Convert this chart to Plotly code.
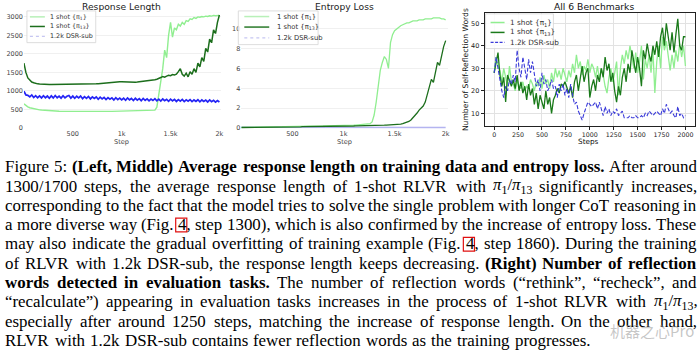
import plotly.graph_objects as go

# ---------------- data ----------------
train_steps = list(range(0, 2001, 20))

resp_len_pi1 = [
    650, 600, 570, 545, 530,
    515, 505, 495, 488, 482,
    476, 470, 466, 462, 458,
    455, 452, 450, 448, 447,
    446, 445, 444, 443, 442,
    442, 441, 440, 440, 440,
    440, 440, 440, 440, 441,
    441, 442, 442, 443, 443,
    444, 444, 445, 445, 446,
    446, 447, 447, 448, 449,
    450, 451, 452, 453, 454,
    455, 456, 457, 458, 459,
    460, 462, 464, 466, 468,
    470, 475, 480, 560, 900,
    1300, 1600, 2100, 1900, 2500,
    2850, 2450, 2700, 2650, 2800,
    2750, 2850, 2800, 2900, 2880,
    2950, 2930, 2980, 2960, 3000,
    2990, 3010, 3000, 3020, 3010,
    3030, 3020, 3040, 3030, 3040,
    3040]

resp_len_pi13 = [
    1750, 1500, 1350, 1280, 1240,
    1220, 1200, 1190, 1185, 1180,
    1180, 1178, 1176, 1175, 1175,
    1175, 1174, 1174, 1173, 1173,
    1173, 1172, 1172, 1172, 1173,
    1173, 1174, 1175, 1176, 1177,
    1178, 1180, 1182, 1184, 1186,
    1188, 1190, 1192, 1195, 1198,
    1200, 1205, 1210, 1215, 1220,
    1225, 1230, 1235, 1240, 1245,
    1250, 1245, 1240, 1235, 1232,
    1230, 1232, 1235, 1240, 1245,
    1250, 1255, 1262, 1270, 1278,
    1285, 1290, 1300, 1315, 1330,
    1360, 1390, 1370, 1400, 1420,
    1410, 1440, 1430, 1450, 1520,
    1600, 1450, 1400, 1480, 1380,
    1520, 1450, 1600, 1500, 1750,
    1650, 1900, 1800, 2150, 2050,
    2400, 2300, 2650, 2550, 2850,
    3050]

resp_len_dsr = [
    990, 890, 880, 840, 890,
    820, 870, 815, 865, 810,
    870, 815, 860, 800, 865,
    810, 875, 815, 860, 805,
    870, 810, 855, 875, 805,
    860, 800, 855, 810, 860,
    790, 845, 800, 850, 785,
    840, 795, 835, 775, 830,
    785, 825, 765, 820, 775,
    810, 755, 815, 765, 805,
    755, 800, 745, 810, 755,
    795, 740, 800, 750, 790,
    735, 795, 745, 785, 730,
    780, 740, 790, 730, 775,
    725, 780, 735, 770, 720,
    775, 730, 770, 715, 765,
    725, 770, 710, 760, 720,
    765, 710, 755, 715, 760,
    705, 755, 715, 750, 700,
    755, 710, 745, 695, 740,
    700]

entropy_pi1 = [
    0.05, 0.05, 0.06, 0.06, 0.06,
    0.07, 0.07, 0.07, 0.08, 0.08,
    0.08, 0.09, 0.09, 0.10, 0.10,
    0.10, 0.11, 0.11, 0.12, 0.12,
    0.12, 0.13, 0.13, 0.14, 0.14,
    0.14, 0.15, 0.15, 0.16, 0.16,
    0.16, 0.17, 0.17, 0.18, 0.18,
    0.18, 0.19, 0.19, 0.20, 0.20,
    0.20, 0.21, 0.21, 0.22, 0.22,
    0.22, 0.23, 0.23, 0.24, 0.24,
    0.25, 0.25, 0.26, 0.27, 0.27,
    0.28, 0.29, 0.30, 0.31, 0.32,
    0.33, 0.35, 0.38, 0.42, 0.60,
    1.3, 2.6, 4.2, 5.8, 6.6,
    7.2, 6.9, 6.0, 8.6, 9.4,
    9.8, 10.0, 10.2, 10.3, 10.4,
    10.5, 10.6, 10.6, 10.7, 10.8,
    10.8, 10.8, 10.9, 10.9, 10.9,
    11.0, 11.0, 11.0, 11.0, 11.1,
    11.1, 11.1, 11.1, 11.0, 11.0,
    10.9]

entropy_pi13 = [
    0.04, 0.04, 0.05, 0.05, 0.05,
    0.05, 0.06, 0.06, 0.06, 0.06,
    0.07, 0.07, 0.07, 0.07, 0.08,
    0.08, 0.08, 0.08, 0.09, 0.09,
    0.09, 0.09, 0.10, 0.10, 0.10,
    0.10, 0.11, 0.11, 0.11, 0.11,
    0.12, 0.12, 0.12, 0.12, 0.13,
    0.13, 0.13, 0.13, 0.14, 0.14,
    0.14, 0.14, 0.15, 0.15, 0.15,
    0.15, 0.16, 0.16, 0.16, 0.17,
    0.17, 0.17, 0.18, 0.18, 0.19,
    0.19, 0.20, 0.20, 0.21, 0.21,
    0.22, 0.22, 0.23, 0.23, 0.24,
    0.24, 0.25, 0.25, 0.26, 0.27,
    0.27, 0.28, 0.29, 0.29, 0.30,
    0.31, 0.33, 0.36, 0.39, 0.43,
    0.48, 0.55, 0.65, 0.80, 1.0,
    1.2, 1.5, 1.8, 2.0, 2.2,
    2.6, 3.3, 4.1, 4.9, 4.6,
    5.6, 6.6, 6.3, 7.4, 8.2,
    8.8]

entropy_dsr = [
    0.07, 0.06, 0.06, 0.06, 0.06,
    0.06, 0.06, 0.06, 0.06, 0.06,
    0.06, 0.05, 0.06, 0.05, 0.06,
    0.05, 0.05, 0.05, 0.05, 0.05,
    0.05, 0.05, 0.05, 0.05, 0.05,
    0.05, 0.05, 0.05, 0.05, 0.05,
    0.05, 0.05, 0.04, 0.05, 0.04,
    0.04, 0.04, 0.04, 0.04, 0.04,
    0.04, 0.04, 0.04, 0.04, 0.04,
    0.04, 0.04, 0.04, 0.04, 0.04,
    0.04, 0.04, 0.04, 0.04, 0.04,
    0.04, 0.04, 0.04, 0.04, 0.04,
    0.04, 0.04, 0.04, 0.04, 0.04,
    0.04, 0.04, 0.04, 0.04, 0.04,
    0.04, 0.04, 0.04, 0.04, 0.04,
    0.04, 0.04, 0.04, 0.04, 0.04,
    0.04, 0.04, 0.04, 0.04, 0.04,
    0.04, 0.04, 0.04, 0.04, 0.04,
    0.04, 0.04, 0.04, 0.04, 0.04,
    0.04, 0.04, 0.04, 0.04, 0.04,
    0.04]

eval_steps = list(range(0, 2001, 20))

reflect_pi1 = [
    28, 35, 31, 29, 24,
    30, 26, 22, 31, 24,
    23, 20, 25, 22, 21,
    24, 20, 22, 21, 25,
    23, 20, 24, 22, 26,
    21, 27, 23, 25, 21,
    28, 24, 30, 26, 29,
    25, 30, 27, 24, 29,
    26, 32, 28, 36, 30,
    33, 27, 31, 29, 34,
    28, 32, 30, 26, 31,
    25, 30, 27, 22, 19,
    26, 30, 24, 28, 33,
    18, 30, 36, 32, 38,
    34, 40, 35, 30, 37,
    28, 33, 40, 25, 34,
    30, 36, 28, 38, 19,
    33, 40, 30, 44, 38,
    42, 35, 29, 36, 30,
    38, 33, 41, 35, 40,
    31]

reflect_pi13 = [
    28, 32, 37, 27, 22,
    26, 15, 27, 24, 22,
    25, 21, 27, 20, 24,
    19, 22, 16, 23, 18,
    21, 14, 19, 12, 18,
    15, 12, 20, 14, 17,
    10, 16, 18, 21, 19,
    23, 22, 24, 21, 19,
    22, 17, 24, 27, 20,
    26, 31, 24, 28, 30,
    17, 22, 25, 20, 27,
    24, 30, 26, 35, 29,
    32, 24, 28, 20, 15,
    22, 18, 26, 30, 24,
    32, 28, 38, 33, 28,
    35, 30, 22, 38, 34,
    41, 36, 33, 40, 36,
    42, 35, 44, 48, 40,
    50, 44, 38, 46, 37,
    45, 52, 40, 38, 44,
    44]

reflect_dsr = [
    28, 35, 30, 25, 20,
    17, 22, 20, 25, 23,
    27, 24, 38, 30, 26,
    35, 30, 25, 34, 28,
    33, 27, 22, 25, 20,
    28, 23, 25, 20, 22,
    25, 21, 22, 17, 23,
    20, 23, 18, 21, 17,
    23, 18, 14, 15, 11,
    9, 7, 10, 13, 15,
    14, 13, 14, 15, 12,
    15, 12, 9, 13, 10,
    12, 9, 11, 10, 12,
    9, 10, 11, 8, 8,
    8, 9, 8, 8, 9,
    8, 8, 9, 8, 10,
    9, 11, 10, 9, 10,
    11, 10, 9, 12, 10,
    14, 12, 10, 11, 9,
    8, 13, 9, 10, 8,
    9]

train_tickvals = [500, 1000, 1500, 2000]
train_ticktext = ["500", "1k", "1.5k", "2k"]
resp_tickvals = [0, 500, 1000, 1500, 2000, 2500, 3000]
ent_tickvals = [0, 2, 4, 6, 8, 10]
eval_tickvals = [0, 250, 500, 750, 1000, 1250, 1500, 1750, 2000]
refl_tickvals = [10, 20, 30, 40, 50]

legend_labels = ["1 shot {π<sub>1</sub>}", "1 shot {π<sub>13</sub>}", "1.2k DSR-sub"]

CAPTION_LINES = [
    "Figure 5: **(Left, Middle) Average response length on training data and entropy loss.** After around",
    "1300/1700 steps, the average response length of 1-shot RLVR with {PI} significantly increases,",
    "corresponding to the fact that the model tries to solve the single problem with longer CoT reasoning in",
    "a more diverse way (Fig. [4], step 1300), which is also confirmed by the increase of entropy loss. These",
    "may also indicate the gradual overfitting of training example (Fig. [4], step 1860). During the training",
    "of RLVR with 1.2k DSR-sub, the response length keeps decreasing. **(Right) Number of reflection**",
    "**words detected in evaluation tasks.** The number of reflection words (“rethink”, “recheck”, and",
    "“recalculate”) appearing in evaluation tasks increases in the process of 1-shot RLVR with {PI},",
    "especially after around 1250 steps, matching the increase of response length. On the other hand,",
    "RLVR with 1.2k DSR-sub contains fewer reflection words as the training progresses.",
]

# ---------------- helpers ----------------
W, H = 700, 352
def PX(px):
    return px / W
def PY(py):
    return 1 - py / H

C_LIGHT = "#90ee90"
C_DARK1 = "#1c6e1c"
C_DARK3 = "#1a7a1a"
C_BLUE = "#2424f5"

fig = go.Figure()

# Plot 1
fig.add_trace(go.Scatter(x=train_steps, y=resp_len_pi1, mode="lines", line=dict(color=C_LIGHT, width=1.4), xaxis="x", yaxis="y", hoverinfo="skip"))
fig.add_trace(go.Scatter(x=train_steps, y=resp_len_dsr, mode="lines", line=dict(color=C_BLUE, width=1.7), xaxis="x", yaxis="y", hoverinfo="skip"))
fig.add_trace(go.Scatter(x=train_steps, y=resp_len_pi13, mode="lines", line=dict(color=C_DARK1, width=1.5), xaxis="x", yaxis="y", hoverinfo="skip"))
# Plot 2
fig.add_trace(go.Scatter(x=train_steps, y=entropy_dsr, mode="lines", line=dict(color="#b4b4f0", width=1.5), xaxis="x2", yaxis="y2", hoverinfo="skip"))
fig.add_trace(go.Scatter(x=train_steps, y=entropy_pi1, mode="lines", line=dict(color=C_LIGHT, width=1.3), xaxis="x2", yaxis="y2", hoverinfo="skip"))
fig.add_trace(go.Scatter(x=train_steps, y=entropy_pi13, mode="lines", line=dict(color=C_DARK1, width=1.3), xaxis="x2", yaxis="y2", hoverinfo="skip"))
# Plot 3
fig.add_trace(go.Scatter(x=eval_steps, y=reflect_pi1, mode="lines", line=dict(color=C_LIGHT, width=1.3), xaxis="x3", yaxis="y3", hoverinfo="skip"))
fig.add_trace(go.Scatter(x=eval_steps, y=reflect_pi13, mode="lines", line=dict(color=C_DARK3, width=1.3), xaxis="x3", yaxis="y3", hoverinfo="skip"))
fig.add_trace(go.Scatter(x=eval_steps, y=reflect_dsr, mode="lines", line=dict(color="#3b3bd9", width=1.1, dash="4px,2px"), xaxis="x3", yaxis="y3", hoverinfo="skip"))

TICKF = dict(family="DejaVu Sans, Arial, sans-serif", size=6.5, color="#444")
light_axis = dict(showline=False, zeroline=False, ticks="", fixedrange=True)

fig.update_layout(
    width=W, height=H, margin=dict(l=0, r=0, t=0, b=0),
    paper_bgcolor="white", plot_bgcolor="white", showlegend=False,
    xaxis=dict(domain=[PX(24), PX(222)], range=[0, 2020], tickvals=train_tickvals, ticktext=train_ticktext,
               showgrid=False, tickfont=TICKF, anchor="y", **light_axis),
    yaxis=dict(domain=[PY(130), PY(10)], range=[-27, 3188], tickvals=resp_tickvals,
               showgrid=True, gridcolor="#f0f0f0", gridwidth=1, tickfont=TICKF, anchor="x", **light_axis),
    xaxis2=dict(domain=[PX(242), PX(449)], range=[0, 2020], tickvals=train_tickvals, ticktext=train_ticktext,
                showgrid=False, tickfont=TICKF, anchor="y2", **light_axis),
    yaxis2=dict(domain=[PY(130), PY(10)], range=[-0.1, 11.9], tickvals=ent_tickvals,
                showgrid=True, gridcolor="#f0f0f0", gridwidth=1, tickfont=TICKF, anchor="x2", **light_axis),
    xaxis3=dict(domain=[PX(486), PX(697)], range=[-100, 2100], tickvals=eval_tickvals,
                showgrid=True, gridcolor="#e2e2e2", gridwidth=0.8, zeroline=False,
                showline=True, linecolor="#222", linewidth=0.9, mirror=True,
                ticks="outside", ticklen=3, tickwidth=0.8, tickcolor="#222",
                tickfont=dict(family="DejaVu Sans, sans-serif", size=6.3, color="#222"), anchor="y3"),
    yaxis3=dict(domain=[PY(127), PY(13)], range=[4.4, 54.6], tickvals=refl_tickvals,
                showgrid=True, gridcolor="#e2e2e2", gridwidth=0.8, zeroline=False,
                showline=True, linecolor="#222", linewidth=0.9, mirror=True,
                ticks="outside", ticklen=3, tickwidth=0.8, tickcolor="#222",
                tickfont=dict(family="DejaVu Sans, sans-serif", size=6.5, color="#222"), anchor="x3"),
)

annotations = []
shapes = []

def ann(px, py, text, size, family="DejaVu Sans, sans-serif", color="#222", xanchor="center", angle=0):
    annotations.append(dict(x=PX(px), y=PY(py), xref="paper", yref="paper", text=text, showarrow=False,
                            xanchor=xanchor, yanchor="middle", textangle=angle, borderpad=0,
                            font=dict(family=family, size=size, color=color)))

# titles and axis labels
ann(122, 6.5, "Response Length", 9.2)
ann(345, 6.5, "Entropy Loss", 9.2)
ann(596, 6.5, "All 6 Benchmarks", 9.2, color="#111")
ann(122, 143, "Step", 6.6, color="#444")
ann(345, 143, "Step", 6.6, color="#444")
ann(590, 143, "Steps", 7.3, color="#111")
ann(467, 70, "Number of Self-Reflection Words", 7.6, color="#111", angle=-90)

# custom legends
def legend(box, rows, x_line, x_text, size):
    x0, y0, x1, y1 = box
    shapes.append(dict(type="rect", xref="paper", yref="paper", x0=PX(x0), x1=PX(x1), y0=PY(y1), y1=PY(y0),
                       line=dict(color="#d4d4d4", width=0.8), fillcolor="rgba(255,255,255,0.85)", layer="above"))
    for (ry, color, dash, lw), label in zip(rows, legend_labels):
        shapes.append(dict(type="line", xref="paper", yref="paper", x0=PX(x_line[0]), x1=PX(x_line[1]),
                           y0=PY(ry), y1=PY(ry), line=dict(color=color, width=lw, dash=dash), layer="above"))
        ann(x_text, ry, label, size, color="#333", xanchor="left")

legend((27, 11, 96, 43),
       [(17.0, "#b8f0b8", "solid", 1.5), (26.7, C_DARK1, "solid", 1.5), (36.7, "#c6c6f2", "dot", 1.3)],
       (30, 45), 49, 6.4)
legend((239, 11, 319, 45),
       [(16.7, "#b8f0b8", "solid", 1.5), (27.3, "#2a7a2a", "solid", 1.5), (38.3, "#c6c6f2", "dot", 1.3)],
       (245, 270), 277, 6.8)
legend((487, 14, 555, 49),
       [(22.7, C_LIGHT, "solid", 1.5), (32.7, C_DARK3, "solid", 1.5), (42.7, "#3b3bd9", "3px,1.5px", 1.2)],
       (492, 506), 510, 7.3)

# ---------------- caption (justified with Times metrics) ----------------
FS = 16.9
REG_W = dict(zip("abcdefghijklmnopqrstuvwxyz",
                 [444, 500, 444, 500, 444, 333, 500, 500, 278, 278, 500, 278, 778, 500, 500, 500, 500, 333, 389, 278, 500, 500, 722, 500, 500, 444]))
REG_W.update(dict(zip("ABCDEFGHIJKLMNOPQRSTUVWXYZ",
                      [722, 667, 667, 722, 611, 556, 722, 722, 333, 389, 722, 611, 889, 722, 722, 556, 722, 667, 556, 611, 722, 722, 944, 722, 722, 611])))
REG_W.update({c: 500 for c in "0123456789"})
REG_W.update({"(": 333, ")": 333, ",": 250, ".": 250, ":": 278, "/": 278, "-": 333, "“": 444, "”": 444})
BOLD_W = dict(zip("abcdefghijklmnopqrstuvwxyz",
                  [500, 556, 444, 556, 444, 333, 500, 556, 278, 333, 556, 278, 833, 556, 500, 556, 556, 444, 389, 333, 556, 500, 722, 500, 500, 444]))
BOLD_W.update(dict(zip("ABCDEFGHIJKLMNOPQRSTUVWXYZ",
                       [722, 667, 722, 722, 667, 611, 778, 778, 389, 500, 778, 667, 944, 722, 778, 611, 778, 722, 556, 667, 722, 722, 1000, 722, 722, 667])))
BOLD_W.update({"(": 333, ")": 333, ",": 250, ".": 250, ":": 333, "-": 333})

def tw(s, bold=False):
    t = BOLD_W if bold else REG_W
    return sum(t.get(c, 500) for c in s) * FS / 1000.0

SERIF = "Liberation Serif, Times New Roman, serif"
LEFT, RIGHT = 4.0, 697.5
PI_TEXT = "<i>π</i><sub>1</sub>/<i>π</i><sub>13</sub>"

for i, line in enumerate(CAPTION_LINES):
    base = 174.0 + i * 19.45
    toks = []
    for k, seg in enumerate(line.split("**")):
        b = (k % 2 == 1)
        for w in seg.split(" "):
            if w:
                toks.append((w, b))
    items = []
    for w, b in toks:
        boxed = False
        if w.startswith("{PI}"):
            rest = w[4:]
            text = PI_TEXT + rest
            width = 2.3 * FS + tw(rest)
        elif w.startswith("[4]"):
            rest = w[3:]
            text = "4" + rest
            width = tw("4" + rest)
            boxed = True
        else:
            text = "<b>" + w + "</b>" if b else w
            width = tw(w, b)
        items.append((text, width, boxed))
    total = sum(it[1] for it in items)
    if i < len(CAPTION_LINES) - 1:
        gap = (RIGHT - LEFT - total) / (len(items) - 1)
    else:
        gap = 0.25 * FS + 0.9
    x = LEFT
    for text, width, boxed in items:
        annotations.append(dict(x=PX(x), y=PY(base - 0.3375 * FS), xref="paper", yref="paper", text=text,
                                showarrow=False, xanchor="left", yanchor="middle", borderpad=0,
                                font=dict(family=SERIF, size=FS, color="#000")))
        if boxed:
            shapes.append(dict(type="rect", xref="paper", yref="paper", x0=PX(x - 1.5), x1=PX(x + 0.5 * FS + 1.2),
                               y0=PY(base + 1.5), y1=PY(base - 12.3), line=dict(color="#e01010", width=1.2),
                               fillcolor="rgba(0,0,0,0)", layer="above"))
        x += width + gap

# watermark
ann(697, 333, "机器之心Pro", 15, family="Noto Sans CJK SC, sans-serif", color="rgba(150,150,150,0.55)", xanchor="right")

fig.update_layout(annotations=annotations, shapes=shapes)
fig.write_html("out.html")
